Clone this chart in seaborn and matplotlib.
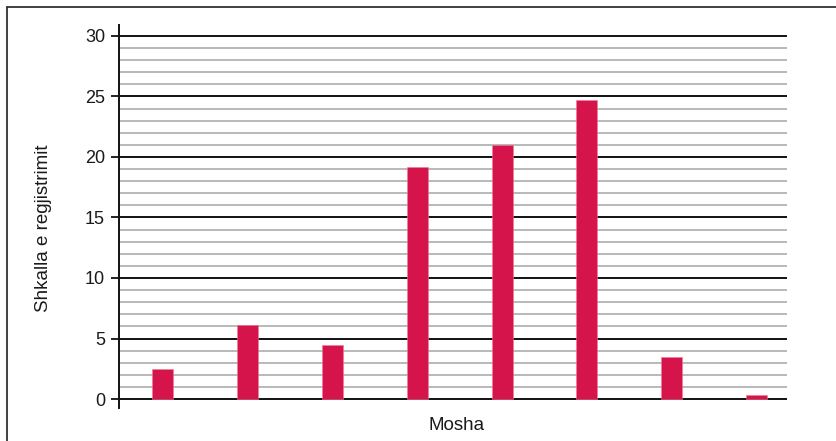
import numpy as np
import pandas as pd
import matplotlib
matplotlib.use('Agg')
import matplotlib.pyplot as plt
import seaborn as sns
from matplotlib.lines import Line2D
from matplotlib.ticker import MultipleLocator

# Data
age_groups = ['G1', 'G2', 'G3', 'G4', 'G5', 'G6', 'G7', 'G8']
enrolment = [2.5, 6.1, 4.5, 19.2, 21.0, 24.7, 3.5, 0.3]

x_label = 'Mosha'
y_label = 'Shkalla e regjistrimit'
bar_color = '#D4144A'

df = pd.DataFrame({'age': age_groups, 'value': enrolment})

sns.set_theme(style='white')
plt.rcParams['font.family'] = ['Liberation Sans', 'DejaVu Sans']

fig = plt.figure(figsize=(8.36, 4.41), dpi=100)
ax = fig.add_axes([119 / 836, 33 / 441, (787 - 119) / 836, (408 - 25) / 441])

# Grid lines: minor every 1 (gray), major every 5 (black)
ax.set_axisbelow(True)
ax.yaxis.set_major_locator(MultipleLocator(5))
ax.yaxis.set_minor_locator(MultipleLocator(1))
ax.grid(which='minor', axis='y', color='#a6a6a6', linewidth=1.1)
ax.grid(which='major', axis='y', color='#111111', linewidth=1.4)

sns.barplot(data=df, x='age', y='value', color=bar_color, width=0.248,
            saturation=1, edgecolor='#f07a98', linewidth=0.4, ax=ax, zorder=2)

ax.set_xlim(-0.517, 7.36)
ax.set_ylim(-0.74, 30.9)

for side in ['top', 'right', 'bottom']:
    ax.spines[side].set_visible(False)
ax.spines['left'].set_color('#111111')
ax.spines['left'].set_linewidth(1.4)

ax.set_xticks([])
ax.tick_params(axis='y', which='major', left=True, length=6, width=1.3,
               color='#111111', pad=4, labelsize=13, labelcolor='#1a1a1a')
ax.tick_params(axis='y', which='minor', left=False)

ax.set_xlabel('')
ax.set_ylabel('')
fig.text(457 / 836, 1 - 425 / 441, x_label, ha='center', va='center',
         fontsize=13.5, color='#1a1a1a')
fig.text(44 / 836, 1 - 228 / 441, y_label, ha='center', va='center',
         rotation=90, fontsize=13.5, color='#1a1a1a')

# Outer frame lines (top and left edges of the picture)
fig.add_artist(Line2D([7 / 836, 1], [1 - 7 / 441, 1 - 7 / 441],
                      transform=fig.transFigure, color='#333333', linewidth=1.3))
fig.add_artist(Line2D([7 / 836, 7 / 836], [0, 1 - 7 / 441],
                      transform=fig.transFigure, color='#333333', linewidth=1.3))

fig.savefig('out.png', dpi=100)
